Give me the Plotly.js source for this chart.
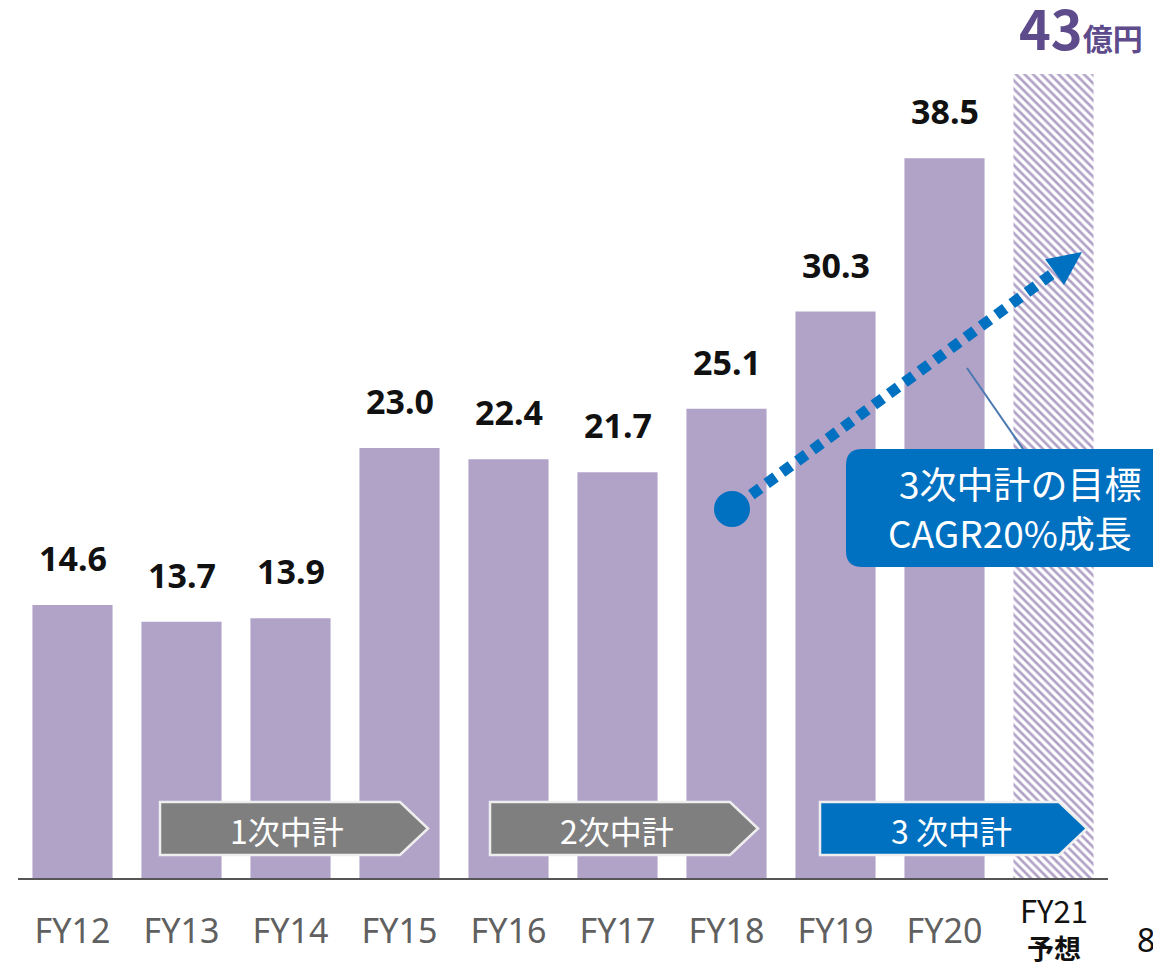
<!DOCTYPE html>
<html>
<head>
<meta charset="utf-8">
<script src="https://cdn.plot.ly/plotly-3.0.1.min.js"></script>
<style>html,body{margin:0;padding:0;background:#fff;}#chart{width:1153px;height:969px;}</style>
</head>
<body>
<div id="chart"></div>
<script>
// ---- data ----
const categories = ['FY12','FY13','FY14','FY15','FY16','FY17','FY18','FY19','FY20','FY21'];
const values = [14.6, 13.7, 13.9, 23.0, 22.4, 21.7, 25.1, 30.3, 38.5, 43];
const valueLabels = ['14.6','13.7','13.9','23.0','22.4','21.7','25.1','30.3','38.5','43'];
const forecastUnit = '億円';
const tickLabels = ['FY12','FY13','FY14','FY15','FY16','FY17','FY18','FY19','FY20','FY21'];
const forecastNote = '予想';
const phaseLabels = ['1次中計','2次中計','3 次中計'];
const calloutLines = ['3次中計の目標','CAGR20%成長'];
const pageNumber = '8';

// ---- geometry helpers (pixel -> paper) ----
const M = {l:18, r:45, t:18, b:91};
const W = 1153 - M.l - M.r, H = 969 - M.t - M.b;
const px = x => (x - M.l) / W;
const py = y => (969 - M.b - y) / H;
const P = (x,y) => px(x) + ',' + py(y);
const poly = pts => 'M ' + pts.map(p => P(p[0],p[1])).join(' L ') + ' Z';

const purple = '#b1a2c8';
const blue = '#0070c0';
const last = categories.length - 1;

const patternShapes = categories.map((c,i) => i === last ? '\\' : '');

const traces = [{
  type:'bar', x:categories, y:values,
  marker:{color:purple, line:{width:0},
    pattern:{shape:patternShapes, size:6, solidity:0.45, fillmode:'replace'}},
  width:0.735, hoverinfo:'skip'
}];

const annotations = [];
values.forEach((v,i) => {
  if (i < last) {
    annotations.push({x:categories[i], y:v, xref:'x', yref:'y', text:valueLabels[i],
      showarrow:false, yanchor:'bottom', yshift:22,
      font:{family:'Noto Sans, sans-serif', size:34, color:'#111', weight:'bold'}});
  } else {
    annotations.push({x:categories[i], y:v, xref:'x', yref:'y',
      text:'<span style="font-size:54px">'+valueLabels[i]+'</span><span style="font-size:30px">'+forecastUnit+'</span>',
      showarrow:false, yanchor:'bottom', yshift:6, xshift:27,
      font:{family:'Noto Sans CJK JP, Noto Sans, sans-serif', size:30, color:'#5e4b8b', weight:'bold'}});
  }
});

// forecast tick label (two lines, black)
annotations.push({x:categories[last], xref:'x', yref:'paper', y:py(969),
  text:'<span style="font-size:31px">'+tickLabels[last]+'</span><br><span style="font-size:27px;font-weight:bold">'+forecastNote+'</span>',
  showarrow:false, yanchor:'bottom', align:'center',
  font:{family:'Noto Sans CJK JP, Noto Sans, sans-serif', size:28, color:'#111'}});

// phase arrows
const phases = [
  {x0:160, tip:428, fill:'#7f7f7f', tx:287},
  {x0:490, tip:758, fill:'#7f7f7f', tx:617},
  {x0:820, tip:1087, fill:blue, tx:951}
];
const shapes = [];
phases.forEach((ph,i) => {
  const y0 = 802, y1 = 855, ym = (y0+y1)/2, notch = ph.tip - 28;
  shapes.push({type:'path', xref:'paper', yref:'paper',
    path: poly([[ph.x0,y0],[notch,y0],[ph.tip,ym],[notch,y1],[ph.x0,y1]]),
    fillcolor:ph.fill, line:{color:'#eeeeee', width:2.5}});
  annotations.push({xref:'paper', yref:'paper', x:px(ph.tx), y:py(ym+1), text:phaseLabels[i],
    showarrow:false, xanchor:'center', yanchor:'middle',
    font:{family:'Noto Sans CJK JP, sans-serif', size:32, color:'#ffffff'}});
});

// growth arrow
const start = [732,509], tip = [1082,252];
const dx = tip[0]-start[0], dy = tip[1]-start[1], len = Math.hypot(dx,dy);
const ux = dx/len, uy = dy/len, nx = -uy, ny = ux;
const headLen = 34, headHalf = 16;
const base = [tip[0]-ux*headLen, tip[1]-uy*headLen];
shapes.push({type:'line', xref:'paper', yref:'paper',
  x0:px(start[0]+ux*24), y0:py(start[1]+uy*24), x1:px(base[0]+ux*4), y1:py(base[1]+uy*4),
  line:{color:blue, width:11, dash:'11px,8px'}});
shapes.push({type:'path', xref:'paper', yref:'paper',
  path: poly([tip,[base[0]+nx*headHalf, base[1]+ny*headHalf],[base[0]-nx*headHalf, base[1]-ny*headHalf]]),
  fillcolor:blue, line:{width:0}});
shapes.push({type:'circle', xref:'paper', yref:'paper',
  x0:px(start[0]-18), x1:px(start[0]+18), y0:py(start[1]+18), y1:py(start[1]-18),
  fillcolor:blue, line:{width:0}});

// callout pointer + box
shapes.push({type:'line', xref:'paper', yref:'paper', x0:px(967), y0:py(368), x1:px(1025), y1:py(452),
  line:{color:'#4a78b0', width:2}});
(function(){
  const x0=846, x1=1220, y0=449, y1=567, r=16;
  const path = 'M '+P(x0+r,y0)+' L '+P(x1-r,y0)+' Q '+P(x1,y0)+' '+P(x1,y0+r)+
    ' L '+P(x1,y1-r)+' Q '+P(x1,y1)+' '+P(x1-r,y1)+' L '+P(x0+r,y1)+' Q '+P(x0,y1)+' '+P(x0,y1-r)+
    ' L '+P(x0,y0+r)+' Q '+P(x0,y0)+' '+P(x0+r,y0)+' Z';
  shapes.push({type:'path', xref:'paper', yref:'paper', path:path, fillcolor:blue, line:{width:0}});
})();
annotations.push({xref:'paper', yref:'paper', x:px(897), y:py(483), text:calloutLines[0],
  showarrow:false, xanchor:'left', yanchor:'middle',
  font:{family:'Noto Sans CJK JP, sans-serif', size:37, color:'#ffffff'}});
annotations.push({xref:'paper', yref:'paper', x:px(886), y:py(532), text:calloutLines[1],
  showarrow:false, xanchor:'left', yanchor:'middle',
  font:{family:'Noto Sans CJK JP, sans-serif', size:37, color:'#ffffff'}});

// page number
annotations.push({xref:'paper', yref:'paper', x:px(1135), y:py(939), text:pageNumber,
  showarrow:false, xanchor:'left', yanchor:'middle',
  font:{family:'Noto Sans, sans-serif', size:32, color:'#111'}});

const ticktext = tickLabels.map((t,i) => i === last ? '' : t);

const layout = {
  width:1153, height:969,
  margin:M,
  paper_bgcolor:'#fff', plot_bgcolor:'#fff',
  showlegend:false,
  xaxis:{type:'category', tickvals:categories, ticktext:ticktext, range:[-0.5, 9.5],
    showline:true, linecolor:'#555', linewidth:2, ticks:'', showgrid:false, zeroline:false,
    tickfont:{family:'Noto Sans, sans-serif', size:34, color:'#606060'}, ticklabelstandoff:22, fixedrange:true},
  yaxis:{range:[0,46], visible:false, showgrid:false, zeroline:false, fixedrange:true},
  bargap:0.265,
  shapes:shapes,
  annotations:annotations
};

Plotly.newPlot('chart', traces, layout, {displayModeBar:false, staticPlot:true});
</script>
</body>
</html>
